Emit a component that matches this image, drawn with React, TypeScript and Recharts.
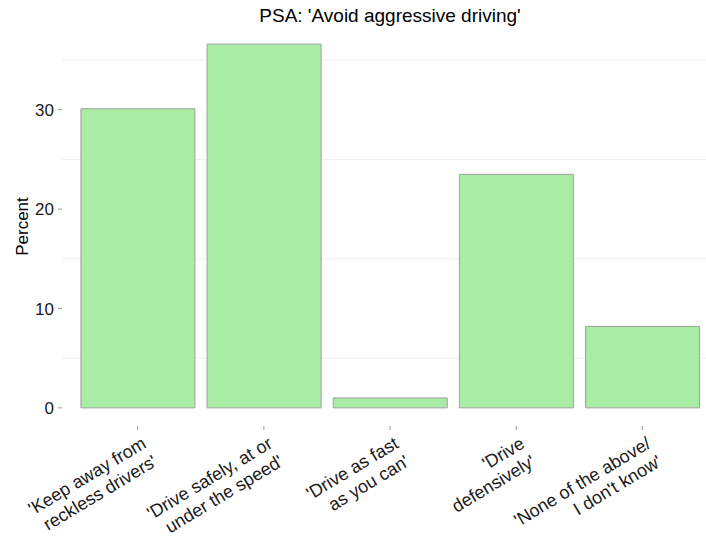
import { BarChart, Bar, XAxis, YAxis, CartesianGrid } from "recharts";

const categories = [
  ["'Keep away from", "reckless drivers'"],
  ["'Drive safely, at or", "under the speed'"],
  ["'Drive as fast", "as you can'"],
  ["'Drive", "defensively'"],
  ["'None of the above/", "I don't know'"],
];
const percents = [30.1, 36.6, 1.0, 23.5, 8.2];
const yTicks = [0, 10, 20, 30];
const minorGrid = [5, 15, 25, 35];

const data = categories.map((c, i) => ({ name: c.join("\n"), percent: percents[i] }));

const FONT = "'Liberation Sans', Arial, sans-serif";

function XTick({ x, y, payload }: any) {
  const lines = String(payload.value).split("\n");
  return (
    <g transform={`translate(${x + 2},${y + 4})`}>
      <text transform="rotate(-31)" textAnchor="end" fontSize={18} fill="#1a1a1a" fontFamily={FONT}>
        {lines.map((l, i) => (
          <tspan key={i} x={0} y={15 + i * 21}>
            {l}
          </tspan>
        ))}
      </text>
    </g>
  );
}

export default function App() {
  return (
    <div style={{ position: "absolute", left: 0, top: 0, width: 706, height: 537, overflow: "hidden", background: "#fff" }}>
      <div
        style={{
          position: "absolute",
          left: 62,
          width: 656,
          top: 5,
          textAlign: "center",
          fontFamily: FONT,
          fontSize: 19,
          color: "#000",
        }}
      >
        PSA: 'Avoid aggressive driving'
      </div>
      <BarChart
        width={718}
        height={537}
        data={data}
        margin={{ top: 27, right: 0, bottom: 0, left: 0 }}
        barCategoryGap="5%"
      >
        <CartesianGrid horizontalValues={minorGrid} vertical={false} stroke="#f0f0f0" strokeWidth={1} />
        <XAxis
          dataKey="name"
          interval={0}
          height={111}
          axisLine={false}
          tickLine={{ stroke: "#999" }}
          tickSize={4}
          tickMargin={0}
          padding={{ left: 12.6, right: 12.6 }}
          tick={<XTick />}
        />
        <YAxis
          type="number"
          domain={[-1.825, 38.325]}
          allowDataOverflow
          ticks={yTicks}
          width={62}
          axisLine={false}
          tickLine={{ stroke: "#999" }}
          tickSize={4}
          tickMargin={4}
          tick={{ fontSize: 17, fill: "#1a1a1a", fontFamily: FONT }}
          label={{
            content: ({ viewBox }: any) => {
              const cx = viewBox.x + 22;
              const cy = viewBox.y + viewBox.height / 2;
              return (
                <text
                  x={cx}
                  y={cy}
                  transform={`rotate(-90, ${cx}, ${cy})`}
                  textAnchor="middle"
                  dominantBaseline="central"
                  fontSize={17}
                  fill="#000"
                  fontFamily={FONT}
                >
                  Percent
                </text>
              );
            },
          }}
        />
        <Bar dataKey="percent" fill="#a8eca5" stroke="#a0a0a0" strokeWidth={1} isAnimationActive={false} />
      </BarChart>
    </div>
  );
}
